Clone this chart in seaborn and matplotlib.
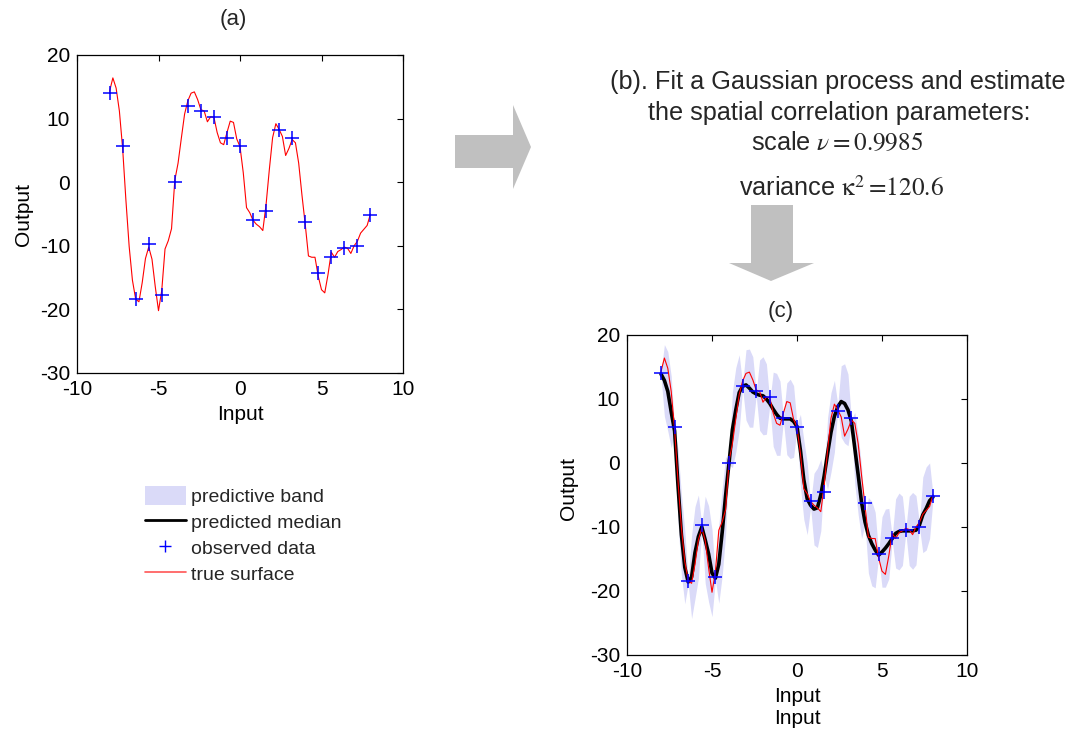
import numpy as np
import pandas as pd
import matplotlib
matplotlib.use("Agg")
import matplotlib.pyplot as plt
import matplotlib.patches as mpatches
from matplotlib.lines import Line2D
import seaborn as sns

# ---------------- data ----------------
x_obs = [-8.0, -7.2, -6.4, -5.6, -4.8, -4.0, -3.2, -2.4, -1.6, -0.8, 0.0,
         0.8, 1.6, 2.4, 3.2, 4.0, 4.8, 5.6, 6.4, 7.2, 8.0]
y_obs = [14.1, 5.7, -18.4, -9.7, -17.8, 0.0, 12.0, 11.2, 10.3, 7.0, 5.7,
         -5.9, -4.5, 8.2, 7.0, -6.2, -14.2, -11.7, -10.4, -10.0, -5.1]

x_grid = np.round(np.arange(-8.0, 8.001, 0.2), 1)

true_surface = [14.3, 16.4, 14.8, 11.2, 5.3, -2.8, -10.1, -15.4, -18.4, -18.8,
                -15.8, -12.0, -10.2, -12.1, -16.4, -20.2, -17.0, -10.5, -9.2, -7.3,
                0.3, 3.0, 6.9, 10.7, 12.8, 14.0, 14.2, 13.0, 11.4, 11.2,
                9.5, 10.3, 10.2, 7.8, 6.2, 5.9, 7.8, 9.6, 9.4, 6.8,
                5.6, 1.5, -4.0, -4.8, -6.0, -6.6, -7.0, -7.6, -3.5, 2.0,
                7.0, 9.2, 8.3, 7.2, 4.2, 5.3, 6.7, 6.2, 3.0, -2.0,
                -6.6, -11.6, -11.8, -11.8, -14.8, -16.9, -17.4, -14.5, -11.0, -11.8,
                -10.9, -10.6, -10.2, -10.4, -11.2, -10.0, -9.3, -8.0, -7.4, -6.8,
                -5.0]

pred_median = [13.9, 12.9, 11.2, 8.0, 5.0, -3.5, -11.2, -16.3, -18.6, -17.8,
               -14.0, -11.5, -10.0, -12.0, -14.2, -17.2, -18.0, -15.8, -10.8, -5.1,
               0.0, 5.2, 8.3, 11.0, 12.0, 12.2, 11.7, 11.1, 10.8, 10.6,
               10.5, 10.0, 9.3, 8.4, 7.6, 7.0, 6.9, 6.9, 6.9, 6.5,
               5.7, 2.0, -2.6, -5.6, -6.6, -7.2, -7.0, -5.0, -2.0, 1.5,
               4.8, 7.3, 8.8, 9.6, 9.3, 8.3, 6.5, 2.3, -1.9, -6.2,
               -9.2, -11.3, -12.6, -13.6, -14.4, -13.9, -13.3, -12.6, -11.8, -11.0,
               -10.7, -10.6, -10.6, -10.6, -10.6, -10.5, -9.7, -8.1, -7.1, -5.9,
               -5.3]

band_halfwidth = [0.3,
                  5.6, 6.2, 5.6, 0.3,
                  5.7, 6.3, 5.7, 0.3,
                  6.5, 7.2, 6.5, 0.3,
                  6.8, 7.5, 6.8, 0.3,
                  6.1, 6.8, 6.1, 0.3,
                  5.9, 6.6, 5.9, 0.3,
                  5.5, 6.1, 5.5, 0.3,
                  5.5, 6.1, 5.5, 0.3,
                  5.8, 6.4, 5.8, 0.3,
                  5.6, 6.2, 5.6, 0.3,
                  5.6, 6.2, 5.6, 0.3,
                  5.6, 6.2, 5.6, 0.3,
                  5.6, 6.2, 5.6, 0.3,
                  5.6, 6.2, 5.6, 0.3,
                  5.6, 6.2, 5.6, 0.3,
                  5.9, 6.6, 5.9, 0.3,
                  5.5, 6.1, 5.5, 0.3,
                  5.4, 6.0, 5.4, 0.3,
                  5.4, 6.0, 5.4, 0.3,
                  5.9, 6.5, 5.9, 0.3]

x_ticks = [-10, -5, 0, 5, 10]
y_ticks = [-30, -20, -10, 0, 10, 20]
legend_labels = ["predictive band", "predicted median", "observed data", "true surface"]

# ---------------- styling ----------------
sns.set_theme(style="white")
plt.rcParams['font.family'] = ['Liberation Sans', 'DejaVu Sans']
plt.rcParams['mathtext.fontset'] = 'stix'
plt.rcParams['axes.unicode_minus'] = False

BAND = '#dadaf8'
W, H = 1073, 735

df_obs = pd.DataFrame({'x': x_obs, 'y': y_obs})
df_curve = pd.DataFrame({'x': x_grid, 'true': true_surface, 'median': pred_median,
                         'hw': band_halfwidth})
df_curve['lower'] = df_curve['median'] - df_curve['hw']
df_curve['upper'] = df_curve['median'] + df_curve['hw']

fig = plt.figure(figsize=(W / 100, H / 100), dpi=100)


def rect(l, t, r, b):
    return [l / W, 1 - b / H, (r - l) / W, (b - t) / H]


def fx(px):
    return px / W


def fy(py):
    return 1 - py / H


ax_a = fig.add_axes(rect(77, 55, 403, 373))
ax_c = fig.add_axes(rect(627, 335, 967, 655))

# panel (a)
sns.lineplot(data=df_curve, x='x', y='true', color='red', lw=0.8, ax=ax_a,
             legend=False, sort=False)
sns.scatterplot(data=df_obs, x='x', y='y', marker='+', s=110, color='blue',
                linewidth=1.1, ax=ax_a, legend=False, zorder=5)

# panel (c)
ax_c.fill_between(df_curve['x'], df_curve['lower'], df_curve['upper'],
                  color=BAND, lw=0, zorder=1)
sns.lineplot(data=df_curve, x='x', y='median', color='black', lw=2.6, ax=ax_c,
             legend=False, sort=False, zorder=2)
sns.lineplot(data=df_curve, x='x', y='true', color='red', lw=0.8, ax=ax_c,
             legend=False, sort=False, zorder=3)
sns.scatterplot(data=df_obs, x='x', y='y', marker='+', s=110, color='blue',
                linewidth=1.1, ax=ax_c, legend=False, zorder=5)

for ax in (ax_a, ax_c):
    ax.set_xlim(-10, 10)
    ax.set_ylim(-30, 20)
    ax.set_xticks(x_ticks)
    ax.set_yticks(y_ticks)
    ax.tick_params(direction='in', top=True, right=True, length=4, width=0.8,
                   labelsize=15, colors='black', pad=5)
    for s in ax.spines.values():
        s.set_color('black')
        s.set_linewidth(0.9)
    ax.set_xlabel('Input', fontsize=15, color='black')
    ax.set_ylabel('Output', fontsize=15, color='black')

ax_a.xaxis.set_label_coords(0.5, (373 - 405) / 318)
ax_a.yaxis.set_label_coords((33 - 77) / 326, 0.5)
ax_c.xaxis.set_label_coords(0.5, (655 - 687) / 320)
ax_c.yaxis.set_label_coords((578 - 627) / 340, 0.52)
ax_c.text(0.5, (655 - 709) / 320, 'Input', transform=ax_c.transAxes,
          ha='center', va='top', fontsize=15, color='black')

fig.text(fx(233), fy(20), '(a)', ha='center', va='center', fontsize=16)
fig.text(fx(781), fy(312), '(c)', ha='center', va='center', fontsize=16)

# (b) text
fig.text(fx(838), fy(82), '(b). Fit a Gaussian process and estimate',
         ha='center', va='center', fontsize=18.2)
fig.text(fx(839), fy(113), 'the spatial correlation parameters:',
         ha='center', va='center', fontsize=18.2)
fig.text(fx(837), fy(143), r'scale $\nu = 0.9985$',
         ha='center', va='center', fontsize=18.2)
fig.text(fx(842), fy(188), r'variance $\mathrm{\kappa}^{2} =\!120.6$',
         ha='center', va='center', fontsize=18.2)

# arrows
right_arrow = [(455, 135), (513, 135), (513, 105), (531, 147), (513, 189),
               (513, 168), (455, 168)]
down_arrow = [(751, 205), (793, 205), (793, 263), (814, 263), (771, 281),
              (729, 263), (751, 263)]
for poly in (right_arrow, down_arrow):
    fig.patches.append(mpatches.Polygon([(fx(a), fy(b)) for a, b in poly],
                                        closed=True, transform=fig.transFigure,
                                        facecolor='#c0c0c0', edgecolor='none'))

# legend
handles = [mpatches.Patch(facecolor=BAND, edgecolor='none'),
           Line2D([], [], color='black', lw=2),
           Line2D([], [], color='blue', marker='+', ls='none', ms=8, mew=1),
           Line2D([], [], color='#ff5555', lw=1.2)]
fig.legend(handles, legend_labels, loc='upper left',
           bbox_to_anchor=(fx(145), fy(486)), frameon=False, fontsize=14,
           handlelength=2.1, handleheight=1.1, handletextpad=0.25,
           labelspacing=0.32, borderpad=0, borderaxespad=0)

fig.savefig('out.png', dpi=100, facecolor='white')
